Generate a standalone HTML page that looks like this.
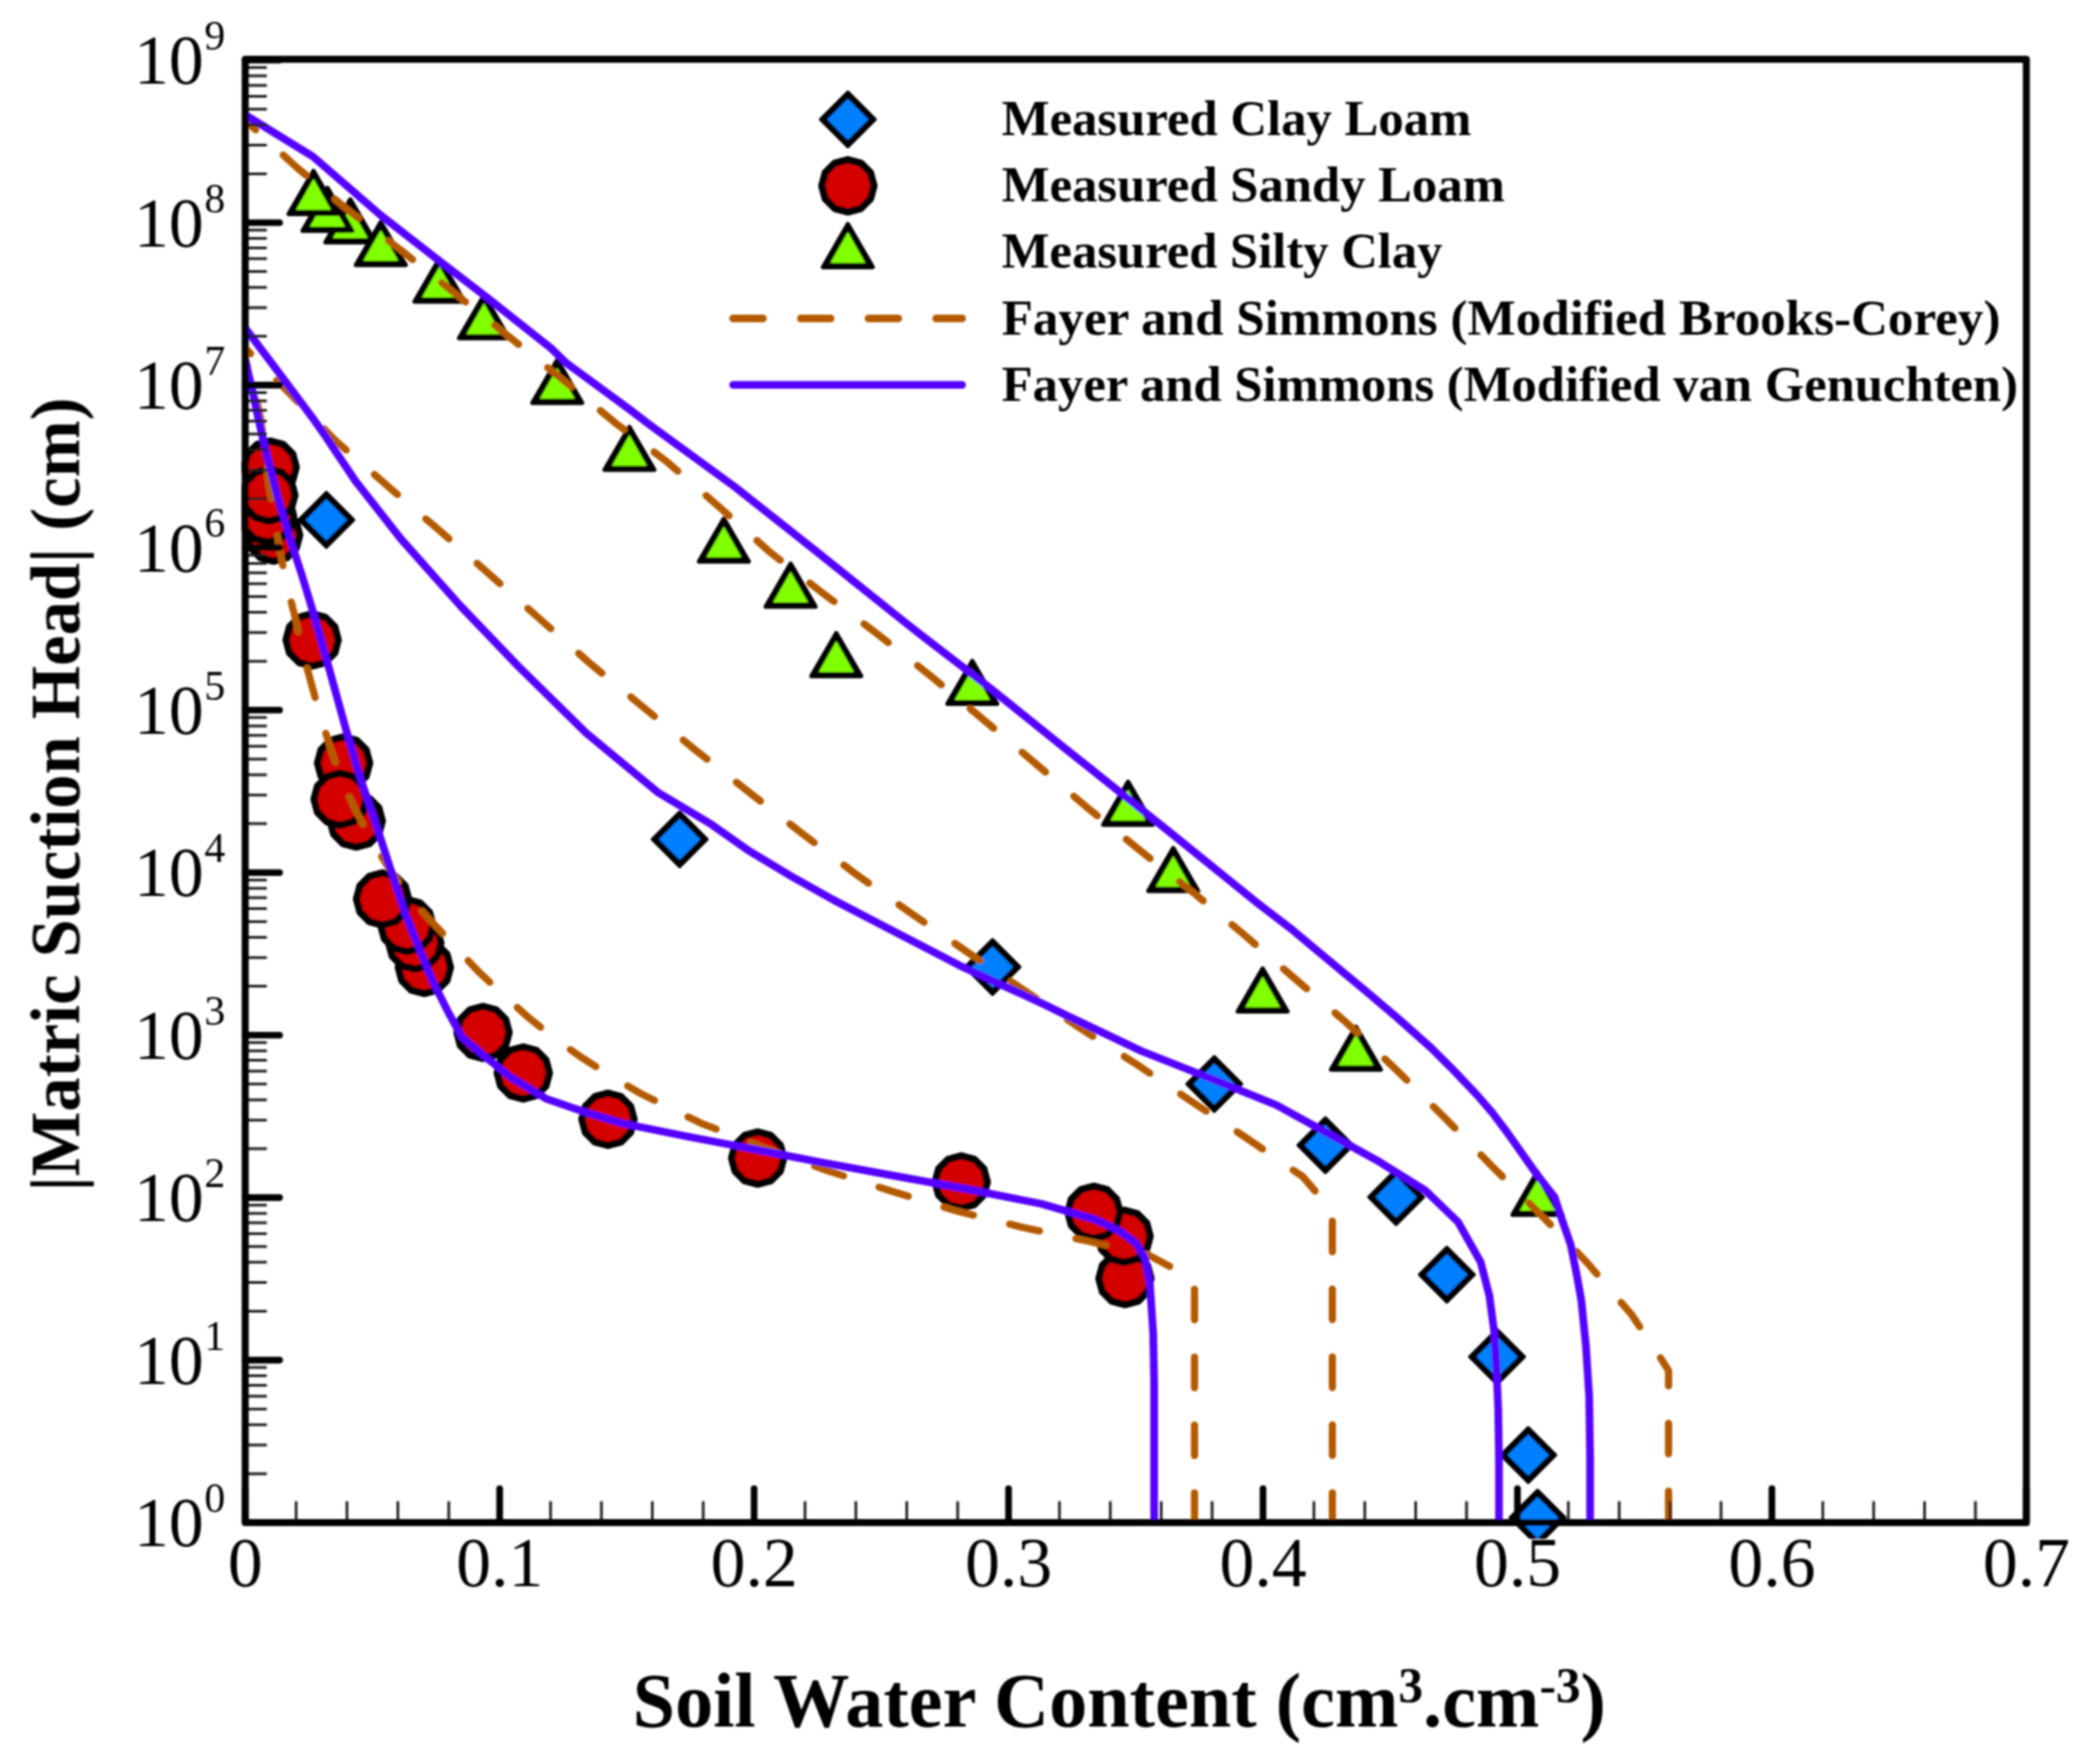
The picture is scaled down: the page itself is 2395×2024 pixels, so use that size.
<!DOCTYPE html>
<html lang="en"><head><meta charset="utf-8"><title>Soil water retention curves</title>
<style>html,body{margin:0;padding:0;background:#fff}svg{display:block}</style></head>
<body>
<svg width="2395" height="2024" viewBox="0 0 2395 2024" role="img" aria-label="Soil water retention curves">
<rect width="2395" height="2024" fill="#fff"/>
<defs>
<filter id="soft" x="0" y="0" width="2395" height="2024" filterUnits="userSpaceOnUse"><feGaussianBlur stdDeviation="0.9"/></filter>
<clipPath id="cm"><rect x="277.4" y="49.6" width="2066.4" height="1715.8"/></clipPath>
<clipPath id="cl"><rect x="281.4" y="68.0" width="2044.0" height="1679.0"/></clipPath>
<g id="mt"><path d="M0,-33.2 L28.5,16 L-28.5,16 Z" fill="#000" stroke="#000" stroke-width="5" stroke-linejoin="round"/><path d="M0,-24.1 L20.1,11.3 L-20.1,11.3 Z" fill="#80ff00"/></g>
<g id="md"><path d="M0,-31.5 L31.5,0 L0,31.5 L-31.5,0 Z" fill="#000" stroke="#000" stroke-width="3.5" stroke-linejoin="round"/><path d="M0,-23.6 L23.6,0 L0,23.6 L-23.6,0 Z" fill="#0080ff"/></g>
<polygon id="mc" points="0.00,-30.00 -15.00,-25.98 -25.98,-15.00 -30.00,-0.00 -25.98,15.00 -15.00,25.98 -0.00,30.00 15.00,25.98 25.98,15.00 30.00,0.00 25.98,-15.00 15.00,-25.98" fill="#d40000" stroke="#000" stroke-width="8.2" stroke-linejoin="round"/>
</defs>
<g filter="url(#soft)">
<g clip-path="url(#cm)">
<g>
<use href="#mt" x="402.0" y="262.0"/>
<use href="#mt" x="437.0" y="288.0"/>
<use href="#mt" x="375.8" y="248.8"/>
<use href="#mt" x="359.8" y="229.4"/>
<use href="#mt" x="504.3" y="330.0"/>
<use href="#mt" x="555.4" y="372.1"/>
<use href="#mt" x="639.5" y="446.3"/>
<use href="#mt" x="722.3" y="523.1"/>
<use href="#mt" x="830.7" y="628.3"/>
<use href="#mt" x="907.3" y="680.0"/>
<use href="#mt" x="959.7" y="759.7"/>
<use href="#mt" x="1115.8" y="791.6"/>
<use href="#mt" x="1294.6" y="930.2"/>
<use href="#mt" x="1346.4" y="1006.3"/>
<use href="#mt" x="1449.0" y="1144.5"/>
<use href="#mt" x="1556.0" y="1211.3"/>
<use href="#mt" x="1764.3" y="1377.8"/>
</g>
<g>
<use href="#mc" x="314.0" y="614.0"/>
<use href="#mc" x="307.0" y="592.0"/>
<use href="#mc" x="310.0" y="536.0"/>
<use href="#mc" x="308.5" y="568.0"/>
<use href="#mc" x="358.2" y="734.2"/>
<use href="#mc" x="408.8" y="942.0"/>
<use href="#mc" x="394.3" y="875.5"/>
<use href="#mc" x="390.3" y="917.0"/>
<use href="#mc" x="487.0" y="1110.0"/>
<use href="#mc" x="476.0" y="1082.0"/>
<use href="#mc" x="467.0" y="1062.0"/>
<use href="#mc" x="439.0" y="1031.5"/>
<use href="#mc" x="554.3" y="1184.6"/>
<use href="#mc" x="600.5" y="1231.1"/>
<use href="#mc" x="697.7" y="1284.3"/>
<use href="#mc" x="869.5" y="1328.8"/>
<use href="#mc" x="1103.1" y="1356.2"/>
<use href="#mc" x="1291.0" y="1467.0"/>
<use href="#mc" x="1290.0" y="1418.5"/>
<use href="#mc" x="1255.4" y="1391.0"/>
</g>
<g>
<use href="#md" x="374.5" y="596.4"/>
<use href="#md" x="780.0" y="963.0"/>
<use href="#md" x="1139.0" y="1109.6"/>
<use href="#md" x="1393.5" y="1243.8"/>
<use href="#md" x="1521.0" y="1314.0"/>
<use href="#md" x="1602.2" y="1373.5"/>
<use href="#md" x="1660.4" y="1462.5"/>
<use href="#md" x="1718.0" y="1556.8"/>
<use href="#md" x="1753.8" y="1669.5"/>
<use href="#md" x="1764.5" y="1741.3"/>
</g>
</g>
<g clip-path="url(#cl)" fill="none" stroke-linejoin="round">
<g stroke="#b35a00" stroke-width="8.3" stroke-linecap="round" stroke-dasharray="35.0 42.9">
<polyline points="281.4,138.0 340.7,192.2 400.2,241.8 461.4,288.0 520.0,335.0 580.0,383.0 640.0,431.0 707.7,486.5 766.0,530.3 824.2,580.6 882.3,632.4 944.1,680.5 1007.0,727.5 1067.8,775.4 1127.7,825.0 1187.1,875.0 1246.0,925.2 1306.7,974.5 1368.5,1023.4 1427.6,1072.4 1487.3,1124.0 1545.5,1173.7 1602.6,1227.7 1658.0,1282.6 1712.2,1338.2 1767.2,1392.7 1821.2,1448.6 1872.4,1508.4 1904.8,1556.8 1914.8,1572.5 1914.8,1747.0" stroke-dashoffset="-59.1"/>
<polyline points="281.4,399.5 329.6,448.6 384.8,505.4 443.9,556.9 502.6,607.2 561.1,658.3 619.3,710.0 677.8,761.8 737.2,810.6 797.6,860.2 861.5,910.5 919.7,955.7 982.5,1003.2 1045.9,1048.2 1109.5,1092.0 1174.2,1135.5 1238.9,1179.3 1304.5,1221.3 1369.0,1264.9 1434.1,1308.2 1482.3,1341.4 1495.0,1350.0 1510.0,1367.5 1529.0,1387.0" stroke-dashoffset="-51.7"/>
<polyline points="281.4,412.0 288.0,435.0 293.5,455.0 299.0,480.0 303.3,512.0 308.2,554.0 316.0,600.0 321.0,631.6 329.0,670.0 338.5,707.8 348.0,750.0 357.0,783.3 367.0,820.0 379.0,857.3 392.0,895.0 408.3,930.0 425.0,962.0 445.0,994.0 470.0,1030.0 495.7,1057.9 522.0,1086.0 548.9,1114.6 577.0,1141.0 606.8,1167.8 637.0,1192.0 668.9,1214.3 701.0,1234.5 734.6,1254.4 769.0,1271.5 804.0,1288.6 840.0,1302.5 875.0,1316.0 949.1,1343.1 1024.0,1367.0 1098.0,1389.5 1173.4,1408.2 1249.3,1424.3 1316.8,1439.4 1341.2,1452.4 1370.8,1468.0" stroke-dashoffset="-50.4"/>
<polyline points="1370.8,1468.0 1370.8,1747.0" stroke-dashoffset="-11.3"/>
<polyline points="1529.0,1387.0 1529.0,1747.0" stroke-dashoffset="-14.2"/>
</g>
<g stroke="#5500ff" stroke-width="8.8">
<polyline points="281.4,131.8 359.3,179.7 436.7,246.8 505.7,300.5 557.5,340.3 632.3,399.5 650.0,416.6 722.3,469.6 746.4,488.0 842.8,558.3 939.2,634.5 979.4,666.8 1035.5,711.6 1057.0,728.5 1137.5,790.5 1223.8,860.0 1250.0,880.8 1346.4,958.0 1442.8,1036.0 1480.0,1064.4 1523.1,1100.3 1566.2,1136.2 1603.6,1167.9 1642.4,1202.4 1669.7,1229.7 1695.6,1257.0 1712.9,1277.1 1730.1,1300.0 1763.7,1347.6 1783.9,1373.5 1792.5,1399.4 1802.5,1428.1 1809.7,1464.0 1814.8,1492.8 1817.5,1520.0 1820.0,1544.4 1823.7,1601.9 1824.8,1673.8 1824.8,1747.0"/>
<polyline points="281.4,376.5 325.3,434.7 361.2,482.9 372.1,498.5 408.0,552.0 459.8,618.0 528.8,695.6 594.9,764.6 672.5,840.8 755.9,909.8 816.3,945.8 860.0,976.6 908.2,1005.5 956.4,1032.5 1004.6,1057.6 1052.8,1082.7 1101.0,1107.7 1149.2,1129.9 1197.3,1152.0 1223.8,1165.0 1310.0,1206.0 1393.4,1239.0 1465.0,1268.0 1522.5,1299.7 1580.0,1331.3 1635.9,1366.1 1673.3,1402.1 1699.2,1448.1 1709.2,1486.9 1714.6,1527.0 1717.5,1573.0 1719.3,1616.3 1720.2,1673.8 1720.2,1747.0"/>
<polyline points="281.4,412.6 285.8,432.0 290.5,451.3 294.4,471.0 298.7,490.0 304.0,513.1 319.3,572.6 334.6,623.7 346.5,660.0 359.1,701.4 377.8,767.5 396.5,835.0 413.8,894.0 429.6,940.0 448.3,997.5 465.5,1049.3 482.8,1092.4 497.1,1126.9 514.4,1161.4 530.2,1190.1 557.5,1213.1 586.3,1236.1 626.5,1260.6 672.5,1276.4 715.7,1289.3 787.5,1303.7 870.0,1319.5 936.3,1332.5 1022.5,1348.3 1108.8,1364.1 1195.0,1381.3 1256.4,1399.0 1285.1,1412.6 1303.8,1426.5 1313.9,1443.8 1319.6,1472.5 1323.4,1530.0 1324.5,1587.5 1324.5,1747.0"/>
</g>
</g>
<g stroke="#000" fill="none">
<path d="M281.4,1690.9H306.2M281.4,1658.0H306.2M281.4,1634.8H306.2M281.4,1616.7H306.2M281.4,1601.9H306.2M281.4,1589.4H306.2M281.4,1578.6H306.2M281.4,1569.1H306.2M281.4,1504.4H306.2M281.4,1471.6H306.2M281.4,1448.3H306.2M281.4,1430.2H306.2M281.4,1415.5H306.2M281.4,1403.0H306.2M281.4,1392.2H306.2M281.4,1382.7H306.2M281.4,1318.0H306.2M281.4,1285.2H306.2M281.4,1261.9H306.2M281.4,1243.8H306.2M281.4,1229.0H306.2M281.4,1216.6H306.2M281.4,1205.7H306.2M281.4,1196.2H306.2M281.4,1131.6H306.2M281.4,1098.7H306.2M281.4,1075.4H306.2M281.4,1057.4H306.2M281.4,1042.6H306.2M281.4,1030.1H306.2M281.4,1019.3H306.2M281.4,1009.8H306.2M281.4,945.1H306.2M281.4,912.3H306.2M281.4,889.0H306.2M281.4,870.9H306.2M281.4,856.2H306.2M281.4,843.7H306.2M281.4,832.9H306.2M281.4,823.3H306.2M281.4,758.7H306.2M281.4,725.8H306.2M281.4,702.6H306.2M281.4,684.5H306.2M281.4,669.7H306.2M281.4,657.2H306.2M281.4,646.4H306.2M281.4,636.9H306.2M281.4,572.2H306.2M281.4,539.4H306.2M281.4,516.1H306.2M281.4,498.0H306.2M281.4,483.3H306.2M281.4,470.8H306.2M281.4,460.0H306.2M281.4,450.5H306.2M281.4,385.8H306.2M281.4,353.0H306.2M281.4,329.7H306.2M281.4,311.6H306.2M281.4,296.8H306.2M281.4,284.4H306.2M281.4,273.5H306.2M281.4,264.0H306.2M281.4,199.4H306.2M281.4,166.5H306.2M281.4,143.2H306.2M281.4,125.2H306.2M281.4,110.4H306.2M281.4,97.9H306.2M281.4,87.1H306.2M281.4,77.6H306.2M339.8,1747.0V1722.5M398.2,1747.0V1722.5M456.6,1747.0V1722.5M515.0,1747.0V1722.5M631.8,1747.0V1722.5M690.2,1747.0V1722.5M748.6,1747.0V1722.5M807.0,1747.0V1722.5M923.8,1747.0V1722.5M982.2,1747.0V1722.5M1040.6,1747.0V1722.5M1099.0,1747.0V1722.5M1215.8,1747.0V1722.5M1274.2,1747.0V1722.5M1332.6,1747.0V1722.5M1391.0,1747.0V1722.5M1507.8,1747.0V1722.5M1566.2,1747.0V1722.5M1624.6,1747.0V1722.5M1683.0,1747.0V1722.5M1799.8,1747.0V1722.5M1858.2,1747.0V1722.5M1916.6,1747.0V1722.5M1975.0,1747.0V1722.5M2091.8,1747.0V1722.5M2150.2,1747.0V1722.5M2208.6,1747.0V1722.5M2267.0,1747.0V1722.5" stroke-width="3" stroke="#1c1c1c"/>
<path d="M281.4,1747.0H320.9M281.4,1560.6H320.9M281.4,1374.1H320.9M281.4,1187.7H320.9M281.4,1001.2H320.9M281.4,814.8H320.9M281.4,628.4H320.9M281.4,441.9H320.9M281.4,255.5H320.9M281.4,69.0H320.9M281.4,1747.0V1708.0M573.4,1747.0V1708.0M865.4,1747.0V1708.0M1157.4,1747.0V1708.0M1449.4,1747.0V1708.0M1741.4,1747.0V1708.0M2033.4,1747.0V1708.0M2325.4,1747.0V1708.0" stroke-width="7.6" stroke-linecap="round"/>
<rect x="281.4" y="68.0" width="2044.0" height="1679.0" stroke-width="8.0" stroke-linejoin="round"/>
</g>
<g font-family="'Liberation Serif',serif" fill="#000">
<g font-size="80" text-anchor="middle">
<text x="281.4" y="1820.4">0</text>
<text x="573.4" y="1820.4">0.1</text>
<text x="865.4" y="1820.4">0.2</text>
<text x="1157.4" y="1820.4">0.3</text>
<text x="1449.4" y="1820.4">0.4</text>
<text x="1741.4" y="1820.4">0.5</text>
<text x="2033.4" y="1820.4">0.6</text>
<text x="2325.4" y="1820.4">0.7</text>
</g>
<text x="233.8" y="1774.2" font-size="80" text-anchor="end">10</text>
<text x="234.6" y="1735.0" font-size="48">0</text>
<text x="233.8" y="1587.8" font-size="80" text-anchor="end">10</text>
<text x="234.6" y="1548.6" font-size="48">1</text>
<text x="233.8" y="1401.3" font-size="80" text-anchor="end">10</text>
<text x="234.6" y="1362.1" font-size="48">2</text>
<text x="233.8" y="1214.9" font-size="80" text-anchor="end">10</text>
<text x="234.6" y="1175.7" font-size="48">3</text>
<text x="233.8" y="1028.4" font-size="80" text-anchor="end">10</text>
<text x="234.6" y="989.2" font-size="48">4</text>
<text x="233.8" y="842.0" font-size="80" text-anchor="end">10</text>
<text x="234.6" y="802.8" font-size="48">5</text>
<text x="233.8" y="655.6" font-size="80" text-anchor="end">10</text>
<text x="234.6" y="616.4" font-size="48">6</text>
<text x="233.8" y="469.1" font-size="80" text-anchor="end">10</text>
<text x="234.6" y="429.9" font-size="48">7</text>
<text x="233.8" y="282.7" font-size="80" text-anchor="end">10</text>
<text x="234.6" y="243.5" font-size="48">8</text>
<text x="233.8" y="96.2" font-size="80" text-anchor="end">10</text>
<text x="234.6" y="57.0" font-size="48">9</text>
</g>
<use href="#md" x="973" y="137"/>
<use href="#mc" x="973" y="213.2"/>
<use href="#mt" x="973" y="290.4"/>
<path d="M841.2,365.4H1104.2" stroke="#b35a00" stroke-width="8.6" stroke-linecap="round" stroke-dasharray="34.4 43.3" fill="none"/>
<path d="M841.2,441.6H1104.2" stroke="#5500ff" stroke-width="8.6" stroke-linecap="round" fill="none"/>
<g font-family="'Liberation Serif',serif" font-weight="bold" font-size="58" fill="#000">
<text x="1149.5" y="155.0" textLength="538.9" lengthAdjust="spacingAndGlyphs">Measured Clay Loam</text>
<text x="1149.5" y="231.2" textLength="577.5" lengthAdjust="spacingAndGlyphs">Measured Sandy Loam</text>
<text x="1149.5" y="307.2" textLength="505.9" lengthAdjust="spacingAndGlyphs">Measured Silty Clay</text>
<text x="1149.5" y="383.6" textLength="1146.2" lengthAdjust="spacingAndGlyphs">Fayer and Simmons (Modified Brooks-Corey)</text>
<text x="1149.5" y="459.6" textLength="1166.3" lengthAdjust="spacingAndGlyphs">Fayer and Simmons (Modified van Genuchten)</text>
</g>
<g font-family="'Liberation Serif',serif" font-weight="bold" fill="#000">
<text x="726" y="1981.2" font-size="88" textLength="1117" lengthAdjust="spacingAndGlyphs">Soil Water Content (cm<tspan font-size="57" dy="-28">3</tspan><tspan dy="28">.cm</tspan><tspan font-size="57" dy="-28">-3</tspan><tspan dy="28">)</tspan></text>
<text transform="translate(90.7,1367) rotate(-90)" font-size="80" textLength="911" lengthAdjust="spacingAndGlyphs">|Matric Suction Head| (cm)</text>
</g>
</g>
</svg>
</body></html>
